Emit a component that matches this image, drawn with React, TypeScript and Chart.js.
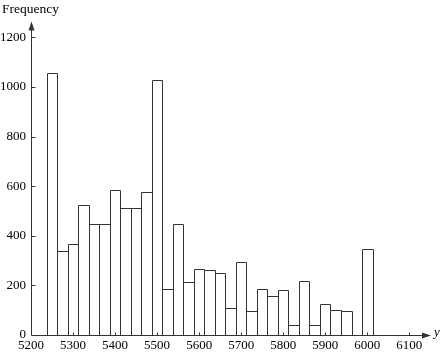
import React, { useEffect, useRef } from "react";
import { Chart, registerables } from "chart.js";
Chart.register(...registerables);

const binCenters = [5250, 5275, 5300, 5325, 5350, 5375, 5400, 5425, 5450, 5475, 5500, 5525, 5550, 5575, 5600, 5625, 5650, 5675, 5700, 5725, 5750, 5775, 5800, 5825, 5850, 5875, 5900, 5925, 5950, 5975, 6000];
const frequencies = [1055, 338, 367, 525, 448, 448, 586, 510, 510, 576, 1028, 187, 448, 213, 265, 261, 248, 109, 296, 96, 185, 156, 180, 39, 219, 42, 124, 100, 96, 0, 346];
const xTickValues = [5200, 5300, 5400, 5500, 5600, 5700, 5800, 5900, 6000, 6100];
const yTickValues = [0, 200, 400, 600, 800, 1000, 1200];
const yAxisTitle = "Frequency";
const xAxisTitle = "y";

const FONT = "'Liberation Serif', 'Times New Roman', serif";
const LINE = "#333";

const outlinePlugin = {
  id: "barOutlines",
  afterDatasetsDraw(chart: any) {
    const { ctx } = chart;
    const meta = chart.getDatasetMeta(0);
    ctx.save();
    ctx.strokeStyle = LINE;
    ctx.lineWidth = 1;
    ctx.beginPath();
    meta.data.forEach((el: any, i: number) => {
      if (!frequencies[i]) return;
      const p = el.getProps(["x", "y", "base", "width"], true);
      const L = Math.round(p.x - p.width / 2) + 0.5;
      const R = Math.round(p.x + p.width / 2) + 0.5;
      const T = Math.round(p.y) + 0.5;
      const B = Math.round(p.base) + 0.5;
      ctx.moveTo(L, B);
      ctx.lineTo(L, T);
      ctx.lineTo(R, T);
      ctx.lineTo(R, B);
    });
    ctx.stroke();
    ctx.restore();
  },
};

const axesPlugin = {
  id: "customAxes",
  afterDatasetsDraw(chart: any) {
    const { ctx, scales } = chart;
    const xs = scales.x;
    const ys = scales.y;
    const x0 = Math.round(xs.getPixelForValue(xTickValues[0])) + 0.5;
    const y0 = Math.round(ys.getPixelForValue(0)) + 0.5;
    ctx.save();
    ctx.strokeStyle = LINE;
    ctx.fillStyle = LINE;
    ctx.lineWidth = 1;
    const yTip = 21.5;
    ctx.beginPath();
    ctx.moveTo(x0, y0);
    ctx.lineTo(x0, yTip + 6);
    ctx.stroke();
    ctx.beginPath();
    ctx.moveTo(x0, yTip);
    ctx.lineTo(x0 - 3, yTip + 9);
    ctx.lineTo(x0 + 3, yTip + 9);
    ctx.closePath();
    ctx.fill();
    const xTip = 431;
    ctx.beginPath();
    ctx.moveTo(x0, y0);
    ctx.lineTo(xTip - 6, y0);
    ctx.stroke();
    ctx.beginPath();
    ctx.moveTo(xTip, y0);
    ctx.lineTo(xTip - 9, y0 - 3);
    ctx.lineTo(xTip - 9, y0 + 3);
    ctx.closePath();
    ctx.fill();
    ctx.beginPath();
    for (const v of yTickValues) {
      if (v === 0) continue;
      const py = Math.round(ys.getPixelForValue(v)) + 0.5;
      ctx.moveTo(x0, py);
      ctx.lineTo(x0 + 4, py);
    }
    for (const v of xTickValues) {
      if (v === xTickValues[0]) continue;
      const px = Math.round(xs.getPixelForValue(v)) + 0.5;
      ctx.moveTo(px, y0);
      ctx.lineTo(px, y0 - 3);
    }
    ctx.stroke();
    ctx.fillStyle = "#000";
    ctx.font = `13.5px ${FONT}`;
    ctx.textAlign = "left";
    ctx.textBaseline = "middle";
    ctx.fillText(yAxisTitle, 2, 9);
    ctx.font = `italic 13px ${FONT}`;
    ctx.textAlign = "center";
    ctx.fillText(xAxisTitle, 437, 333);
    ctx.restore();
  },
};

export default function App() {
  const ref = useRef<HTMLCanvasElement | null>(null);
  useEffect(() => {
    if (!ref.current) return;
    const chart = new Chart(ref.current, {
      type: "bar",
      data: {
        datasets: [
          {
            data: binCenters.map((c, i) => ({ x: c, y: frequencies[i] })),
            backgroundColor: "rgba(255,255,255,0)",
            borderWidth: 0,
            barPercentage: 1,
            categoryPercentage: 1,
          },
        ],
      },
      options: {
        responsive: false,
        animation: false,
        devicePixelRatio: 1,
        layout: { padding: { top: 37.3, right: 32.7, left: 0, bottom: 0 } },
        plugins: { legend: { display: false }, tooltip: { enabled: false } },
        scales: {
          x: {
            type: "linear",
            min: 5200,
            max: 6100,
            offset: false,
            border: { display: false },
            grid: { display: false, drawTicks: false, offset: false },
            afterBuildTicks: (s: any) => {
              s.ticks = xTickValues.map((v) => ({ value: v }));
            },
            afterFit: (s: any) => {
              s.height = 18;
              s.paddingLeft = 0;
              s.paddingRight = 0;
            },
            ticks: {
              autoSkip: false,
              maxRotation: 0,
              padding: 3,
              color: "#000",
              font: { family: FONT, size: 13 },
              callback: (v: any) => String(v),
            },
          },
          y: {
            type: "linear",
            min: 0,
            max: 1200,
            border: { display: false },
            grid: { display: false, drawTicks: false },
            afterBuildTicks: (s: any) => {
              s.ticks = yTickValues.map((v) => ({ value: v }));
            },
            afterFit: (s: any) => {
              s.width = 31;
              s.paddingTop = 0;
              s.paddingBottom = 0;
            },
            ticks: {
              autoSkip: false,
              padding: 5,
              color: "#000",
              font: { family: FONT, size: 13 },
              callback: (v: any) => String(v),
            },
          },
        },
      },
      plugins: [outlinePlugin, axesPlugin],
    });
    return () => chart.destroy();
  }, []);
  return (
    <div style={{ position: "absolute", left: 0, top: 0, width: 442, height: 353, background: "#fff" }}>
      <canvas ref={ref} width={442} height={353} style={{ display: "block" }} />
    </div>
  );
}
